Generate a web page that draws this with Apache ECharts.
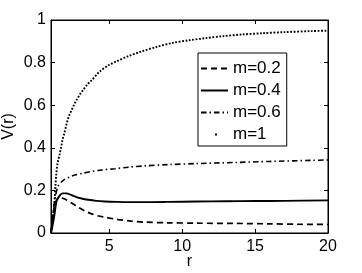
<!DOCTYPE html>
<html>
<head>
<meta charset="utf-8">
<script src="https://cdn.jsdelivr.net/npm/echarts@6/dist/echarts.min.js"></script>
<style>
html,body{margin:0;padding:0;background:#fff;}
#chart{width:362px;height:273px;}
</style>
</head>
<body>
<div id="chart"></div>
<script>
// ---- data ----
const xTicks = [5, 10, 15, 20];
const seriesNames = ['m=0.2', 'm=0.4', 'm=0.6', 'm=1'];

const m02 = [[1,0],[1.15,0.09],[1.3,0.14],[1.45,0.162],[1.6,0.168],[1.8,0.163],[2.07,0.155],[2.5,0.137],[2.87,0.121],[3.3,0.104],[3.78,0.09],[4.2,0.081],[4.7,0.074],[5.6,0.063],[6.5,0.056],[7.43,0.051],[9,0.048],[11,0.046],[13.5,0.045],[16,0.043],[18,0.041],[20,0.04]];

const m04 = [[1,0],[1.2,0.07],[1.38,0.15],[1.5,0.165],[1.65,0.18],[1.8,0.186],[2.05,0.186],[2.4,0.178],[2.7,0.17],[3.1,0.162],[3.55,0.156],[4.1,0.151],[4.7,0.148],[5.5,0.146],[6.5,0.145],[7.7,0.145],[9,0.146],[11,0.148],[13,0.149],[15,0.15],[17,0.151],[20,0.153]];

const m06 = [[1,0],[1.15,0.1],[1.3,0.17],[1.5,0.222],[1.84,0.247],[2.2,0.261],[2.64,0.272],[3.2,0.281],[3.7,0.288],[4.5,0.296],[5.4,0.302],[6.3,0.309],[7.4,0.315],[9,0.321],[11,0.326],[13.6,0.331],[16,0.336],[18.9,0.341],[20,0.343]];

const m10 = [[1,0],[1.15,0.07],[1.23,0.137],[1.3,0.22],[1.36,0.274],[1.45,0.328],[1.59,0.369],[1.7,0.404],[1.79,0.438],[1.91,0.467],[2.02,0.498],[2.14,0.529],[2.27,0.556],[2.44,0.58],[2.6,0.605],[2.78,0.627],[3.0,0.652],[3.23,0.674],[3.51,0.699],[3.8,0.718],[4.3,0.755],[5.0,0.79],[5.5,0.806],[6.3,0.83],[7.1,0.85],[8.2,0.873],[9.3,0.892],[10.5,0.905],[11.6,0.915],[12.8,0.924],[14.1,0.932],[15.5,0.938],[17,0.943],[18.9,0.948],[20,0.95]];

const chart = echarts.init(document.getElementById('chart'), null, {renderer: 'canvas'});
const FONT = 'Liberation Sans, Arial, Helvetica, sans-serif';
const black = '#000';

function mkSeries(name, data, lineType, width) {
  return {
    name: name, type: 'line', data: data, xAxisIndex: 0, yAxisIndex: 0,
    symbol: 'none', smooth: 0.3, animation: false,
    lineStyle: {color: black, width: width, type: lineType, cap: 'butt'},
    itemStyle: {color: black}
  };
}

function axisLine() { return {show: true, onZero: false, lineStyle: {color: black, width: 1}}; }

const option = {
  animation: false,
  backgroundColor: '#fff',
  grid: {left: 51, right: 34, top: 20, bottom: 40, containLabel: false, outerBoundsMode: 'none',
         show: true, borderColor: black, borderWidth: 1, backgroundColor: 'transparent'},
  xAxis: [{
    type: 'value', min: 1, max: 20, position: 'bottom',
    name: 'r', nameLocation: 'middle', nameGap: 21, nameMoveOverlap: false,
    nameTextStyle: {color: black, fontFamily: FONT, fontSize: 16},
    axisLine: axisLine(),
    axisTick: {show: true, inside: true, length: 4, customValues: xTicks, lineStyle: {color: black}},
    axisLabel: {show: true, customValues: xTicks, margin: 6, color: black, fontFamily: FONT, fontSize: 16},
    splitLine: {show: false}
  }, {
    type: 'value', min: 1, max: 20, position: 'top', show: true,
    axisLine: axisLine(),
    axisTick: {show: true, inside: true, length: 4, customValues: xTicks, lineStyle: {color: black}},
    axisLabel: {show: false},
    splitLine: {show: false}
  }],
  yAxis: [{
    type: 'value', min: 0, max: 1, interval: 0.2, position: 'left',
    name: 'V(r)', nameLocation: 'middle', nameGap: 34, nameMoveOverlap: false,
    nameTextStyle: {color: black, fontFamily: FONT, fontSize: 16},
    axisLine: axisLine(),
    axisTick: {show: true, inside: true, length: 4, lineStyle: {color: black}},
    axisLabel: {show: true, margin: 5, color: black, fontFamily: FONT, fontSize: 16},
    splitLine: {show: false}
  }, {
    type: 'value', min: 0, max: 1, interval: 0.2, position: 'right', show: true,
    axisLine: axisLine(),
    axisTick: {show: true, inside: true, length: 4, lineStyle: {color: black}},
    axisLabel: {show: false},
    splitLine: {show: false}
  }],
  legend: {
    show: true, orient: 'vertical', left: 198, top: 53,
    padding: [7, 6, 3, 2], itemGap: 5, itemWidth: 27, itemHeight: 14,
    backgroundColor: '#fff', borderColor: black, borderWidth: 1, borderRadius: 0,
    itemStyle: {opacity: 0},
    textStyle: {color: black, fontFamily: FONT, fontSize: 17},
    data: [
      {name: 'm=0.2'},
      {name: 'm=0.4'},
      {name: 'm=0.6'},
      {name: 'm=1', lineStyle: {type: [2, 60], dashOffset: -14, width: 2, opacity: 1}}
    ]
  },
  series: [
    mkSeries(seriesNames[0], m02, [6, 4], 1.7),
    mkSeries(seriesNames[1], m04, 'solid', 1.9),
    mkSeries(seriesNames[2], m06, [5.5, 3, 1.5, 3], 1.6),
    mkSeries(seriesNames[3], m10, [1.8, 1.6], 1.9),
    {type: 'line', xAxisIndex: 1, yAxisIndex: 1, data: [], symbol: 'none', silent: true}
  ]
};
chart.setOption(option);
</script>
</body>
</html>
